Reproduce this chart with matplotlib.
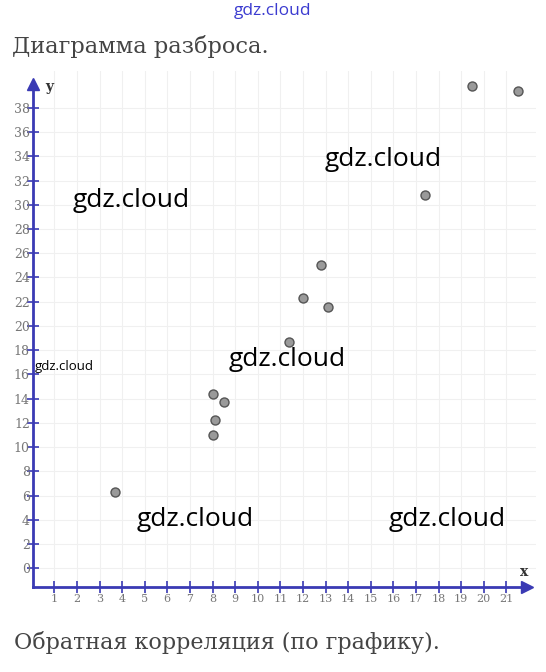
import matplotlib
matplotlib.use('Agg')
import matplotlib.pyplot as plt
import numpy as np

# scatter points
x_vals = [3.7, 8.0, 8.1, 8.0, 8.5, 11.4, 12.0, 12.8, 13.1, 17.4, 19.5, 21.5]
y_vals = [6.3, 11.0, 12.2, 14.4, 13.7, 18.7, 22.3, 25.0, 21.6, 30.8, 39.8, 39.4]

x_ticks = list(range(1, 22))
y_ticks = list(range(0, 39, 2))

title = 'Диаграмма разброса.'
caption = 'Обратная корреляция (по графику).'

AXIS = '#3a3ab4'
LABEL = '#777777'

fig = plt.figure(figsize=(5.46, 6.72), dpi=100)
ax = fig.add_axes([0.0498, 0.1092, 0.9313, 0.7845])
ax.set_xlim(-0.2, 22.3)
ax.set_ylim(-2.5, 41)

# faint background grid
for gx in x_ticks:
    ax.axvline(gx, color='#f0f0f0', lw=0.8, zorder=0)
for gy in y_ticks:
    ax.axhline(gy, color='#f0f0f0', lw=0.8, zorder=0)

# axes with arrows
x0, y0 = 0.07, -1.57
for s in ('top', 'right'):
    ax.spines[s].set_visible(False)
ax.spines['left'].set_position(('data', x0))
ax.spines['bottom'].set_position(('data', y0))
for s in ('left', 'bottom'):
    ax.spines[s].set_color(AXIS)
    ax.spines[s].set_linewidth(2)
ax.spines['left'].set_bounds(y0, 40.0)
ax.spines['bottom'].set_bounds(x0, 21.8)
ax.plot([21.9], [y0], marker='>', color=AXIS, ms=8, clip_on=False)
ax.plot([x0], [40.0], marker='^', color=AXIS, ms=8, clip_on=False)

ax.set_xticks(x_ticks)
ax.set_yticks(y_ticks)
ax.tick_params(direction='inout', length=9, width=1.2, color=AXIS,
               labelcolor=LABEL)
ax.tick_params(axis='x', labelsize=8, pad=0)
ax.tick_params(axis='y', labelsize=9, pad=-2)
for lab in ax.get_xticklabels() + ax.get_yticklabels():
    lab.set_family('DejaVu Serif')

ax.text(0.8, 39.7, 'y', fontsize=10, family='DejaVu Serif', fontweight='bold',
        color='#333333', ha='center', va='center')
ax.text(21.8, -0.3, 'x', fontsize=10, family='DejaVu Serif', fontweight='bold',
        color='#333333', ha='center', va='center')

ax.scatter(x_vals, y_vals, s=42, color='#9a9a9a', edgecolors='#555555',
           linewidths=1, zorder=5)

# page texts
fig.text(12 / 546, 1 - 47 / 672, title, fontsize=16.2, family='DejaVu Serif',
         color='#444444', va='center', ha='left')
fig.text(14 / 546, 1 - 642 / 672, caption, fontsize=16, family='DejaVu Serif',
         color='#444444', va='center', ha='left')

# watermarks
fig.text(273 / 546, 1 - 11 / 672, 'gdz.cloud', fontsize=12.5, family='Open Sans',
         color='#3b3bd0', ha='center', va='center')
wm = [(131, 200, 19), (383, 160, 19), (287, 360, 19), (195, 520, 19),
      (447, 520, 19), (64, 367, 9.5)]
for px, py, fs in wm:
    fig.text(px / 546, 1 - py / 672, 'gdz.cloud', fontsize=fs,
             family='Open Sans', color='black', ha='center', va='center',
             zorder=10)

fig.savefig('out.png', dpi=100)
